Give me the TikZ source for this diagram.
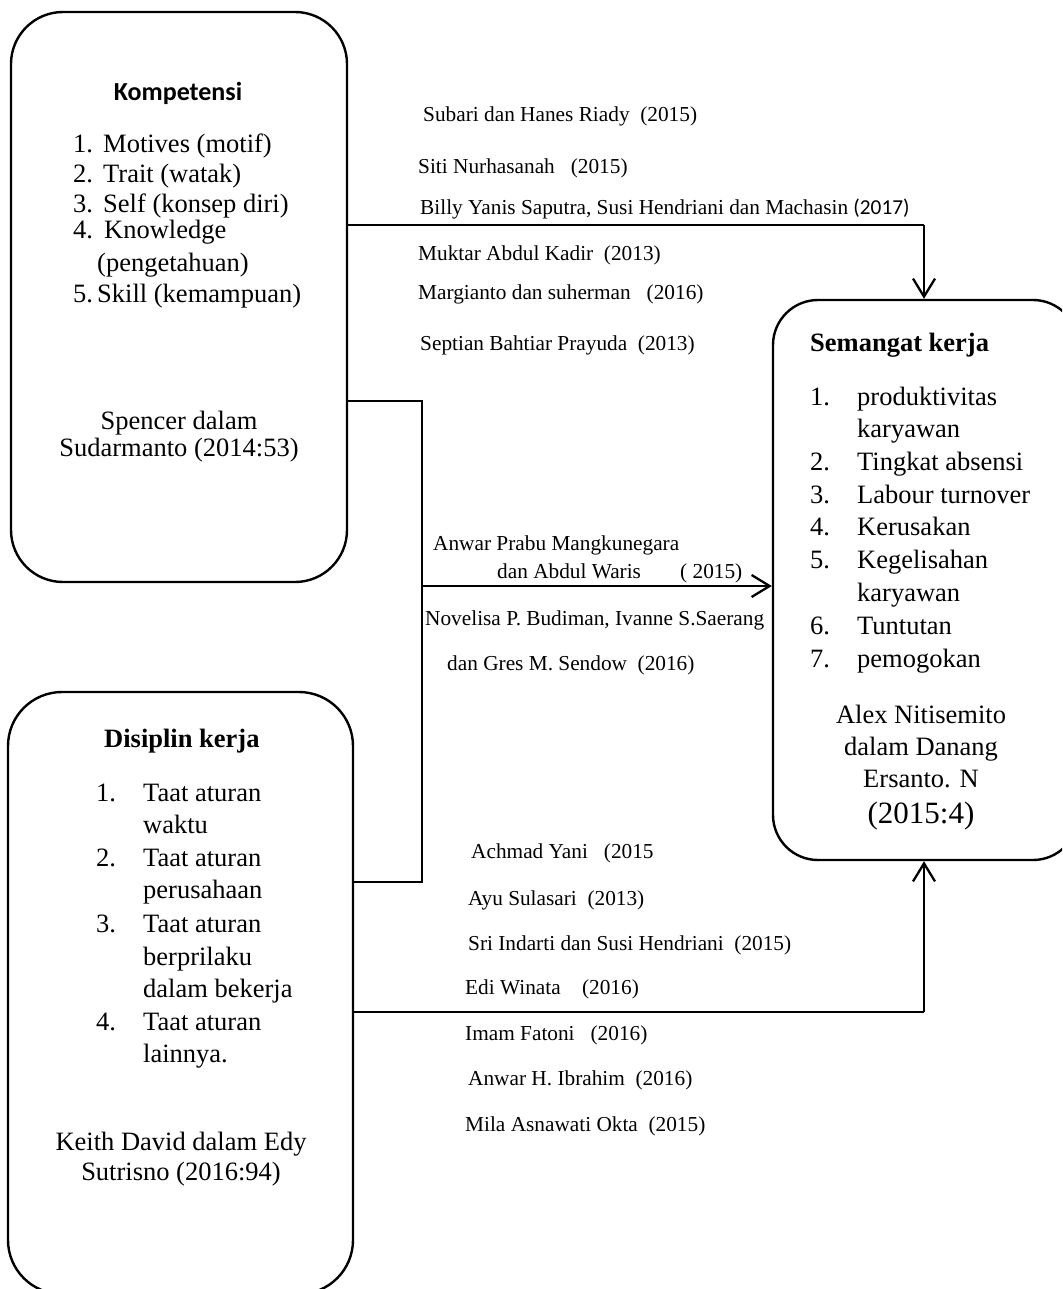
\documentclass[tikz,border=0pt]{standalone}
\usepackage{fontspec}
\setmainfont{Liberation Serif}
\newfontfamily\calfont{Carlito}
\usetikzlibrary{arrows.meta}
\tikzset{
  box/.style={draw, line width=2.4pt, rounded corners=#1, inner sep=0pt},
  thinln/.style={line width=1.4pt},
  thickln/.style={line width=2.3pt},
  arr/.style={thickln, -{Straight Barb[length=18pt,width=22pt]}},
  ref/.style={anchor=base west, inner sep=0pt, font=\fontsize{21.3}{25}\selectfont},
  lst/.style={anchor=base west, inner sep=0pt, font=\fontsize{26.5}{32}\selectfont},
  ctr/.style={anchor=base, inner sep=0pt, font=\fontsize{26.5}{32}\selectfont},
}
\begin{document}
\begin{tikzpicture}[x=1pt,y=1pt]
\useasboundingbox (0,0) rectangle (1062,-1289);
\clip (0,0) rectangle (1062,-1289);

% boxes
\node[box=52pt, minimum width=336pt, minimum height=570pt] (A) at (179,-297) {};
\node[box=54pt, minimum width=345pt, minimum height=602pt] (B) at (180.5,-993) {};
\node[box=45pt, minimum width=305pt, minimum height=560pt] (C) at (925.5,-580) {};

% Kompetensi box text
\node[anchor=base, inner sep=0pt, font=\calfont\bfseries\fontsize{26}{30}\selectfont] (A0) at (178,-101) {Kompetensi};
\node[lst] (A1n) at (73,-153) {1.};
\node[lst] (A1) at (103,-153) {Motives (motif)};
\node[lst] (A2n) at (73,-183) {2.};
\node[lst] (A2) at (103,-183) {Trait (watak)};
\node[lst] (A3n) at (73,-213) {3.};
\node[lst] (A3) at (103,-213) {Self (konsep diri)};
\node[lst] (A4n) at (73,-239) {4.};
\node[lst] (A4) at (104,-239) {Knowledge};
\node[lst] (A4b) at (97,-271) {(pengetahuan)};
\node[lst] (A5n) at (73,-302) {5.};
\node[lst] (A5) at (97,-302) {Skill (kemampuan)};
\node[ctr] (A6) at (179,-429) {Spencer dalam};
\node[ctr] (A7) at (179,-456) {Sudarmanto (2014:53)};

% Semangat kerja box text
\node[lst, font=\bfseries\fontsize{26.5}{32}\selectfont] (C0) at (810,-351) {Semangat kerja};
\node[lst] (C1n) at (810,-405) {1.};
\node[lst] (C1) at (857,-405) {produktivitas};
\node[lst] (C1b) at (857,-437) {karyawan};
\node[lst] (C2n) at (810,-470) {2.};
\node[lst] (C2) at (857,-470) {Tingkat absensi};
\node[lst] (C3n) at (810,-503) {3.};
\node[lst] (C3) at (857,-503) {Labour turnover};
\node[lst] (C4n) at (810,-535) {4.};
\node[lst] (C4) at (857,-535) {Kerusakan};
\node[lst] (C5n) at (810,-568) {5.};
\node[lst] (C5) at (857,-568) {Kegelisahan};
\node[lst] (C5b) at (857,-601) {karyawan};
\node[lst] (C6n) at (810,-634) {6.};
\node[lst] (C6) at (857,-634) {Tuntutan};
\node[lst] (C7n) at (810,-667) {7.};
\node[lst] (C7) at (857,-667) {pemogokan};
\node[ctr] (C8) at (921,-723) {Alex Nitisemito};
\node[ctr] (C9) at (921,-755) {dalam Danang};
\node[ctr] (C10) at (921,-787) {Ersanto. N};
\node[ctr, font=\fontsize{31}{36}\selectfont] (C11) at (921,-823) {(2015:4)};

% Disiplin kerja box text
\node[lst, font=\bfseries\fontsize{26.5}{32}\selectfont] (B0) at (104,-747) {Disiplin kerja};
\node[lst] (B1n) at (96,-801) {1.};
\node[lst] (B1) at (143,-801) {Taat aturan};
\node[lst] (B1b) at (143,-833) {waktu};
\node[lst] (B2n) at (96,-866) {2.};
\node[lst] (B2) at (143,-866) {Taat aturan};
\node[lst] (B2b) at (143,-898) {perusahaan};
\node[lst] (B3n) at (96,-932) {3.};
\node[lst] (B3) at (143,-932) {Taat aturan};
\node[lst] (B3b) at (143,-965) {berprilaku};
\node[lst] (B3c) at (143,-997) {dalam bekerja};
\node[lst] (B4n) at (96,-1030) {4.};
\node[lst] (B4) at (143,-1030) {Taat aturan};
\node[lst] (B4b) at (143,-1062) {lainnya.};
\node[ctr] (B5) at (181,-1150) {Keith David dalam Edy};
\node[ctr] (B6) at (181,-1180) {Sutrisno (2016:94)};

% references, upper group
\node[ref] (r1) at (423,-122) {Subari dan Hanes Riady\ \ (2015)};
\node[ref] (r2) at (418,-174) {Siti Nurhasanah\ \ \ (2015)};
\node[ref] (r3) at (420,-215) {Billy Yanis Saputra, Susi Hendriani dan Machasin {\calfont (2017)}};
\node[ref] (r4) at (418,-260) {Muktar Abdul Kadir\ \ (2013)};
\node[ref] (r5) at (418,-299) {Margianto dan suherman\ \ \ (2016)};
\node[ref] (r6) at (420,-350) {Septian Bahtiar Prayuda\ \ (2013)};

% references, middle group
\node[ref] (m1) at (433,-550) {Anwar Prabu Mangkunegara};
\node[ref] (m2) at (497,-578) {dan Abdul Waris};
\node[ref] (m3) at (680,-578) {( 2015)};
\node[ref] (m4) at (425,-625) {Novelisa P. Budiman, Ivanne S.Saerang};
\node[ref] (m5) at (447,-670) {dan Gres M. Sendow\ \ (2016)};

% references, lower group
\node[ref] (s1) at (471,-858) {Achmad Yani\ \ \ (2015};
\node[ref] (s2) at (468,-905) {Ayu Sulasari\ \ (2013)};
\node[ref] (s3) at (468,-950) {Sri Indarti dan Susi Hendriani\ \ (2015)};
\node[ref] (s4) at (465,-994) {Edi Winata\ \ \ \ (2016)};
\node[ref] (s5) at (465,-1040) {Imam Fatoni\ \ \ (2016)};
\node[ref] (s6) at (468,-1085) {Anwar H. Ibrahim\ \ (2016)};
\node[ref] (s7) at (465,-1131) {Mila Asnawati Okta\ \ (2015)};

% connectors
\coordinate (j1) at (924,-225);
\coordinate (k1) at (422,-401);
\coordinate (k2) at (422,-882);
\coordinate (k3) at (422,-586);
\coordinate (j2) at (924,-1012);

\draw[thinln] (A.east |- j1) -- (j1);
\draw[arr] (j1) -- (j1 |- C.north);
\draw[thinln] (A.east |- k1) -- (k1) -- (k2) -- (B.east |- k2);
\draw[arr] (k3) -- (C.west |- k3);
\draw[thinln] (B.east |- j2) -- (j2);
\draw[arr] (j2) -- (j2 |- C.south);
\end{tikzpicture}
\end{document}
